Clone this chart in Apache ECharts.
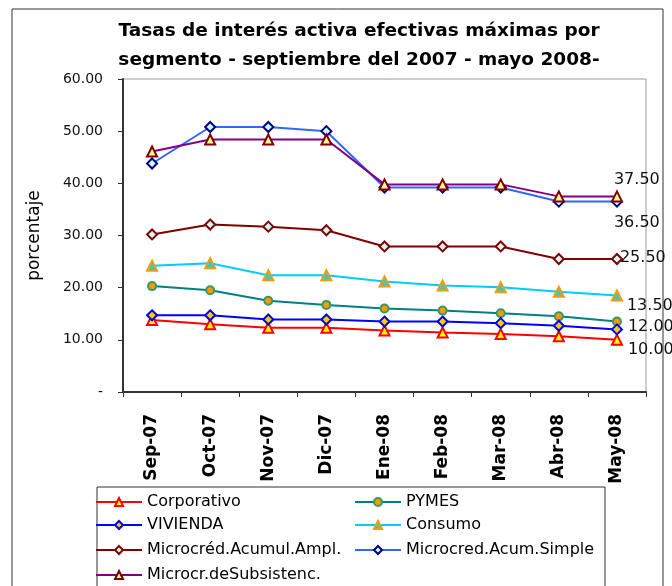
<!DOCTYPE html>
<html>
<head>
<meta charset="utf-8">
<script src="https://cdn.jsdelivr.net/npm/echarts@6/dist/echarts.min.js"></script>
<style>
  html, body { margin: 0; padding: 0; background: #fff; }
  #graph-line { width: 672px; height: 586px; }
</style>
</head>
<body>
<div id="graph-line"></div>
<script>
var months = ['Sep-07', 'Oct-07', 'Nov-07', 'Dic-07', 'Ene-08', 'Feb-08', 'Mar-08', 'Abr-08', 'May-08'];

var corporativo = [13.8, 13.0, 12.3, 12.3, 11.8, 11.4, 11.1, 10.7, 10.0];
var pymes       = [20.3, 19.5, 17.5, 16.7, 16.0, 15.6, 15.1, 14.5, 13.5];
var vivienda    = [14.7, 14.7, 13.9, 13.9, 13.5, 13.5, 13.2, 12.7, 12.0];
var consumo     = [24.2, 24.7, 22.4, 22.4, 21.2, 20.4, 20.1, 19.2, 18.5];
var acumAmpl    = [30.2, 32.1, 31.7, 31.0, 27.9, 27.9, 27.9, 25.5, 25.5];
var acumSimple  = [43.8, 50.8, 50.8, 50.0, 39.2, 39.2, 39.2, 36.5, 36.5];
var subsistenc  = [46.1, 48.4, 48.4, 48.4, 39.8, 39.8, 39.8, 37.5, 37.5];

var yTicks = [0, 10, 20, 30, 40, 50, 60];

var font = '"DejaVu Sans", "Liberation Sans", sans-serif';

// last point gets a value label, offset like the original
function withEndLabel(values, offset) {
	return values.map(function (v, i) {
		if (i !== values.length - 1 || !offset) return v;
		return {
			value: v,
			label: {
				show: true,
				position: 'right',
				offset: offset,
				formatter: function (p) { return p.value.toFixed(2); },
				color: '#111',
				fontFamily: font,
				fontSize: 16
			}
		};
	});
}

function serie(name, values, lineColor, symbol, fill, border, offset) {
	return {
		name: name,
		type: 'line',
		data: withEndLabel(values, offset),
		symbol: symbol,
		symbolSize: symbol === 'circle' ? 8 : 10,
		lineStyle: { color: lineColor, width: 2 },
		itemStyle: { color: fill, borderColor: border, borderWidth: 2 },
		emphasis: { disabled: true },
		z: 3
	};
}

// one legend per entry so the rows sit where the original has them
function legendItem(name, left, top) {
	return {
		left: left, top: top, padding: 0,
		itemWidth: 46, itemHeight: 10, itemGap: 0,
		textStyle: { fontSize: 16, color: '#000', fontFamily: font },
		data: [name],
		selectedMode: false
	};
}

var myChart = echarts.init(document.getElementById('graph-line'), null, { renderer: 'canvas' });

myChart.setOption({
	animation: false,
	textStyle: { fontFamily: font },
	title: {
		text: 'Tasas de interés activa efectivas máximas por\nsegmento - septiembre del 2007 - mayo 2008-',
		left: 354,
		textAlign: 'center',
		top: 12,
		textStyle: { fontSize: 18.5, fontWeight: 'bold', color: '#000', lineHeight: 29, fontFamily: font }
	},
	graphic: [
		{ type: 'rect', shape: { x: 12, y: 9, width: 651, height: 600 }, style: { fill: 'none', stroke: '#333', lineWidth: 1 }, z: 0 },
		{ type: 'rect', shape: { x: 97, y: 487, width: 508, height: 120 }, style: { fill: '#fff', stroke: '#333', lineWidth: 1 }, z: 0 }
	],
	legend: [
		legendItem('Corporativo', 95, 494),
		legendItem('VIVIENDA', 95, 517),
		legendItem('Microcréd.Acumul.Ampl.', 95, 542),
		legendItem('Microcr.deSubsistenc.', 95, 567),
		legendItem('PYMES', 354, 494),
		legendItem('Consumo', 354, 517),
		legendItem('Microcred.Acum.Simple', 354, 542)
	],
	grid: {
		left: 123, top: 79, right: 26, bottom: 194,
		show: true, borderColor: '#999', borderWidth: 1, backgroundColor: '#fff'
	},
	xAxis: {
		type: 'category',
		data: months,
		boundaryGap: true,
		axisLine: { lineStyle: { color: '#333', width: 2 } },
		axisTick: { show: true, length: 5, lineStyle: { color: '#333' } },
		axisLabel: {
			rotate: 90, margin: 22, interval: 0,
			fontSize: 17, fontWeight: 'bold', color: '#000', fontFamily: font
		}
	},
	yAxis: {
		type: 'value',
		min: yTicks[0], max: yTicks[yTicks.length - 1], interval: 10,
		name: 'porcentaje',
		nameLocation: 'middle',
		nameGap: 80,
		nameTextStyle: { fontSize: 17, color: '#000', fontFamily: font },
		splitLine: { show: false },
		axisLine: { show: true, lineStyle: { color: '#333', width: 2 } },
		axisTick: { show: true, length: 5, lineStyle: { color: '#333' } },
		axisLabel: {
			margin: 20, fontSize: 14, color: '#111', fontFamily: font,
			formatter: function (v) { return v === 0 ? '-' : v.toFixed(2); }
		}
	},
	series: [
		serie('Corporativo', corporativo, '#FF0000', 'triangle', '#FFFF00', '#FF0000', [0, 10]),
		serie('PYMES', pymes, '#008080', 'circle', '#FF9900', '#339966', [0, -16]),
		serie('VIVIENDA', vivienda, '#0000FF', 'diamond', '#FFCC00', '#0000FF', [0, -3]),
		serie('Consumo', consumo, '#00CCFF', 'triangle', '#33CCCC', '#FF9900', null),
		serie('Microcréd.Acumul.Ampl.', acumAmpl, '#800000', 'diamond', '#CCFFFF', '#800000', [-8, -1]),
		serie('Microcred.Acum.Simple', acumSimple, '#3366FF', 'diamond', '#CCFFFF', '#000080', [-14, 21]),
		serie('Microcr.deSubsistenc.', subsistenc, '#800080', 'triangle', '#FFFF99', '#800000', [-14, -17])
	]
});
</script>
</body>
</html>
